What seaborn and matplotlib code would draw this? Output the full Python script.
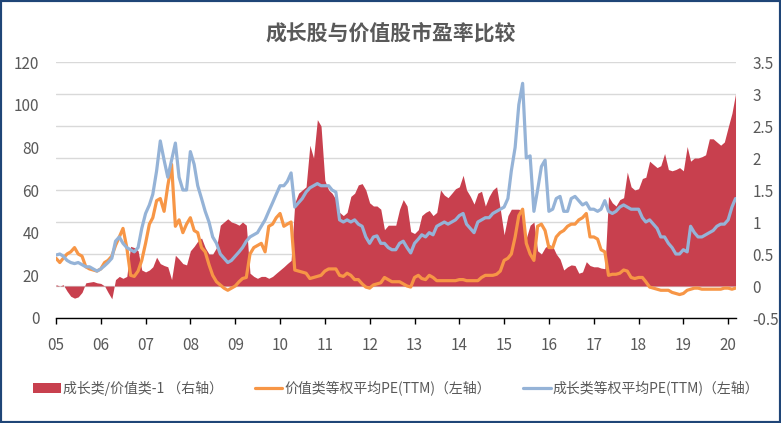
import matplotlib
matplotlib.use("Agg")
import matplotlib.pyplot as plt
import matplotlib.dates as mdates
from matplotlib.patches import Patch, Rectangle
from matplotlib.lines import Line2D
from matplotlib.ticker import FuncFormatter
import pandas as pd
import seaborn as sns

# 月度数据 2005-01 ~ 2020-03
growth_pe = [
    29.5, 30, 29, 27, 26, 25.5, 26, 25, 24, 24, 23, 22,          # 2005
    23, 24.5, 26, 28, 36, 38, 35, 33, 32, 31, 33, 42,             # 2006
    49, 53, 58, 69, 83, 74, 66, 74, 82, 66, 60, 60,               # 2007
    78, 72, 62, 56, 50, 45, 38, 35, 30, 28, 26, 27,               # 2008
    29, 31, 33, 36, 38, 39, 40, 43, 46, 50, 54, 58,               # 2009
    62, 62, 64, 68, 52, 54, 56, 59, 61, 62, 63, 62,               # 2010
    62, 62, 60, 59, 46, 45, 46, 45, 46, 44, 43, 38,               # 2011
    35, 38, 38.5, 35, 35, 33, 32, 32, 35, 36, 33, 30.5,           # 2012
    35, 37, 39, 38, 40, 39, 43, 44, 45, 44, 45, 46,               # 2013
    48, 49, 44, 42, 40, 45, 46, 47, 47, 49, 50, 51,               # 2014
    52, 56, 69, 80, 100, 110, 75, 76, 50, 60, 71, 74,             # 2015
    50, 51, 56, 57, 50, 50, 56, 57, 55, 53, 54, 51,               # 2016
    51, 50, 51, 55, 50, 49, 50, 52, 53, 52, 51, 51,               # 2017
    51, 47, 45, 46, 44, 42, 38, 38, 35, 33, 30, 30,               # 2018
    32, 31, 43, 40, 38, 38, 39, 40, 41, 43, 44, 44,               # 2019
    46, 52, 56,                                                   # 2020
]

value_pe = [
    28, 26, 28, 30, 31, 33, 30, 29, 24, 23, 22.5, 22,
    23, 26, 27, 29, 34, 38, 42, 33, 20, 19.5, 22, 27,
    35, 44, 47, 55, 56, 50, 62, 72, 43, 46, 40, 44,
    47, 41, 40, 33, 31, 25, 20, 17, 15.5, 14, 13, 14,
    15, 17, 18.5, 19, 30, 33, 34, 35, 31, 43, 44, 47,
    49, 43, 44, 45, 22.5, 22, 21.5, 21, 18.5, 19, 19.5, 20,
    22, 23, 23, 23, 20, 19.5, 21, 20, 18, 18, 16, 14.5,
    14, 15.5, 16, 16.5, 19, 18, 17, 17, 17, 16, 15, 14.5,
    19, 20, 18.5, 18, 20, 19, 17.5, 17.5, 17.5, 17.5, 17.5, 17.5,
    18, 18, 17.5, 17.5, 17.5, 17.5, 19, 20, 20, 20, 20.5, 22,
    27, 28, 30, 38, 48, 51, 35, 30, 27, 43, 44, 41,
    33, 33, 38, 40, 41, 43, 44, 44, 46, 47, 49, 38,
    38, 37, 32, 31, 20, 20.5, 20.5, 21, 22.5, 22, 19, 18.5,
    19, 19, 17, 14.5, 14, 13.5, 13, 13, 13, 12, 11.5, 11,
    11.5, 13, 13.5, 14, 14, 13.5, 13.5, 13.5, 13.5, 13.5, 13.5, 14,
    14, 13.5, 14,
]

ratio_minus1 = [
    0.02, 0.0, 0.02, -0.08, -0.16, -0.19, -0.17, -0.1, 0.05, 0.06, 0.07, 0.05,
    0.04, 0.0, -0.1, -0.2, 0.1, 0.15, 0.12, 0.15, 0.62, 0.6, 0.55, 0.25,
    0.22, 0.25, 0.3, 0.45, 0.35, 0.32, 0.3, 0.1, 0.48, 0.42, 0.35, 0.33,
    0.55, 0.62, 0.7, 0.75, 0.6, 0.5, 0.5, 0.6, 0.95, 1.0, 1.05, 1.0,
    0.98, 0.95, 1.0, 0.95, 0.2, 0.15, 0.12, 0.15, 0.15, 0.12, 0.15, 0.2,
    0.25, 0.3, 0.35, 0.4, 1.3, 1.45, 1.5, 1.55, 2.2, 2.0, 2.6, 2.5,
    1.65, 1.5, 1.45, 1.35, 1.15, 1.1, 1.15, 1.4, 1.45, 1.58, 1.6, 1.5,
    1.3, 1.25, 1.25, 1.2, 0.88, 0.95, 0.95, 0.95, 1.2, 1.35, 1.25, 0.85,
    0.82, 0.88, 1.1, 1.15, 1.18, 1.1, 1.15, 1.5, 1.42, 1.38, 1.45, 1.52,
    1.55, 1.73, 1.5, 1.4, 1.28, 1.45, 1.48, 1.25, 1.4, 1.5, 1.55, 1.2,
    0.8, 1.1, 1.2, 1.2, 1.2, 1.15, 0.75, 0.95, 1.0, 0.55, 0.5, 0.6,
    0.65, 0.62, 0.5, 0.42, 0.25, 0.3, 0.33, 0.32, 0.2, 0.22, 0.38, 0.32,
    0.3, 0.3, 0.28, 0.27, 1.4, 1.3, 1.25, 1.35, 1.38, 1.78, 1.55, 1.5,
    1.52, 1.68, 1.7, 1.95, 1.9, 1.85, 1.88, 2.07, 1.82, 1.8, 1.82, 1.85,
    1.8, 2.18, 1.95, 2.0, 2.0, 2.02, 2.05, 2.3, 2.3, 2.25, 2.2, 2.25,
    2.48, 2.7, 3.0,
]

left_ticks = [0, 20, 40, 60, 80, 100, 120]
right_ticks = [-0.5, 0, 0.5, 1, 1.5, 2, 2.5, 3, 3.5]

label_ratio = "成长类/价值类-1 （右轴）"
label_value = "价值类等权平均PE(TTM)（左轴）"
label_growth = "成长类等权平均PE(TTM)（左轴）"

RED = "#C8404E"
ORANGE = "#F79646"
BLUE = "#95B3D7"
GRAY = "#595959"

dates = pd.date_range("2005-01-01", periods=len(growth_pe), freq="MS")
df = pd.DataFrame({"date": dates, "growth": growth_pe, "value": value_pe, "ratio": ratio_minus1})

sns.set_style("white")
plt.rcParams["font.family"] = ["Noto Sans CJK SC", "DejaVu Sans"]
plt.rcParams["axes.unicode_minus"] = False

fig = plt.figure(figsize=(7.81, 4.23), dpi=100)
ax1 = fig.add_axes([56 / 781, 1 - 318 / 423, (736 - 56) / 781, (318 - 62) / 423])
ax2 = ax1.twinx()

# 红色面积放在后面的右轴上
ax2.fill_between(df["date"], 0, df["ratio"], color=RED, linewidth=0, zorder=2)
ax2.set_ylim(-0.5, 3.5)
ax2.set_yticks(right_ticks)
ax2.yaxis.set_major_formatter(FuncFormatter(lambda v, p: f"{v:g}"))
ax2.grid(axis="y", color="#D9D9D9", linewidth=1, zorder=0)
ax2.set_axisbelow(True)

ax1.set_zorder(ax2.get_zorder() + 1)
ax1.patch.set_visible(False)

sns.lineplot(data=df, x="date", y="value", ax=ax1, color=ORANGE, linewidth=2.3, legend=False)
sns.lineplot(data=df, x="date", y="growth", ax=ax1, color=BLUE, linewidth=2.3, legend=False)
ax1.set_ylim(0, 120)
ax1.set_yticks(left_ticks)
ax1.set_xlim(pd.Timestamp("2005-01-01"), pd.Timestamp("2020-03-05"))
ax1.xaxis.set_major_locator(mdates.YearLocator())
ax1.xaxis.set_major_formatter(mdates.DateFormatter("%y"))
ax1.set_xlabel("")
ax1.set_ylabel("")
ax1.grid(False)

for a in (ax1, ax2):
    for s in ("top", "left", "right", "bottom"):
        a.spines[s].set_visible(False)
ax1.spines["bottom"].set_visible(True)
ax1.spines["bottom"].set_color("black")
ax1.spines["bottom"].set_linewidth(1)

ax1.tick_params(axis="x", direction="out", length=4.5, width=1, color="black",
                labelsize=11, labelcolor=GRAY, pad=9, bottom=True)
ax1.tick_params(axis="y", length=0, labelsize=11, labelcolor=GRAY, pad=12)
ax2.tick_params(axis="y", length=0, labelsize=11, labelcolor=GRAY, pad=12)

fig.text(0.5, 1 - 33 / 423, "成长股与价值股市盈率比较", ha="center", va="center",
         fontsize=15, fontweight="bold", color=GRAY)

handles = [
    Patch(facecolor=RED, edgecolor="none"),
    Line2D([0], [0], color=ORANGE, linewidth=2.3),
    Line2D([0], [0], color=BLUE, linewidth=2.3),
]
fig.legend(handles, [label_ratio, label_value, label_growth], loc="center left",
           bbox_to_anchor=(33 / 781, 1 - 388 / 423), ncol=3, frameon=False,
           fontsize=10, handlelength=2.0, handletextpad=0.15, columnspacing=2.3,
           borderpad=0, borderaxespad=0, labelcolor=GRAY)

fig.patches.append(Rectangle((0, 0), 1, 1, transform=fig.transFigure, fill=False,
                             edgecolor="#1F4577", linewidth=3))

fig.savefig("out.png", dpi=100)
